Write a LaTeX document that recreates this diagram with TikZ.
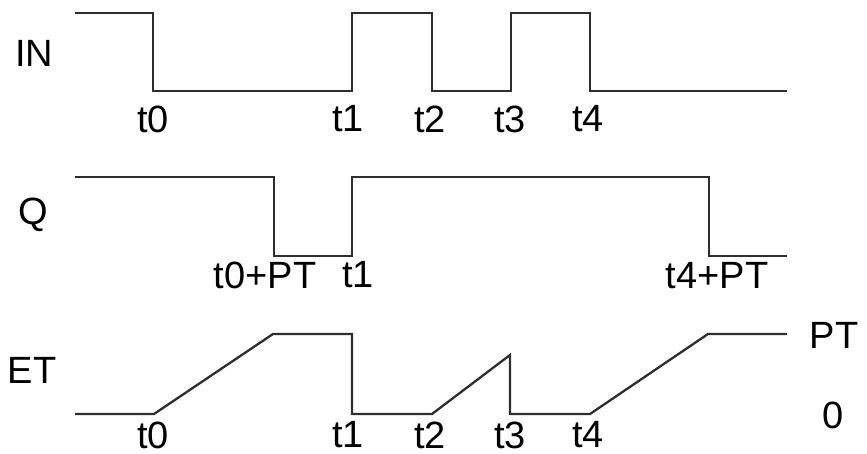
\documentclass[tikz,border=0pt]{standalone}
\usepackage{fontspec}
\setmainfont{Liberation Sans}
\begin{document}
\begin{tikzpicture}[x=1pt,y=-1pt,
  wave/.style={line width=2.3pt,draw=black!82,line join=miter},
  lbl/.style={inner sep=0pt,font=\fontsize{38}{42}\selectfont,text=black}]
\useasboundingbox (0,0) rectangle (867,454);
% signal names
\node[lbl] (nIN) at (34,53) {IN};
\node[lbl] (nQ) at (33,215) {Q};
\node[lbl] (nET) at (32,370) {ET};
\node[lbl] (nPT) at (834,335) {PT};
\node[lbl] (nZero) at (833,415) {0};
% IN waveform
\draw[wave] (75,13) -- (153,13) -- (153,91) -- (352,91) -- (352,13) -- (432,13) -- (432,91) -- (511,91) -- (511,13) -- (590,13) -- (590,91) -- (787,91);
\node[lbl] (int0) at (153,119) {t0};
\node[lbl] (int1) at (348,119) {t1};
\node[lbl] (int2) at (430,119) {t2};
\node[lbl] (int3) at (510,119) {t3};
\node[lbl] (int4) at (588,119) {t4};
% Q waveform
\draw[wave] (75,177) -- (274,177) -- (274,256) -- (352,256) -- (352,177) -- (709,177) -- (709,256) -- (787,256);
\node[lbl] (qt0) at (265,275) {t0+PT};
\node[lbl] (qt1) at (358,275) {t1};
\node[lbl] (qt4) at (717,276) {t4+PT};
% ET waveform
\draw[wave] (75,414) -- (154,414) -- (273,334) -- (352,334) -- (352,414) -- (432,414) -- (510,355) -- (510,414) -- (590,414) -- (708,334) -- (787,334);
\node[lbl] (et0) at (153,435) {t0};
\node[lbl] (et1) at (348,435) {t1};
\node[lbl] (et2) at (430,435) {t2};
\node[lbl] (et3) at (510,435) {t3};
\node[lbl] (et4) at (588,435) {t4};
\end{tikzpicture}
\end{document}
